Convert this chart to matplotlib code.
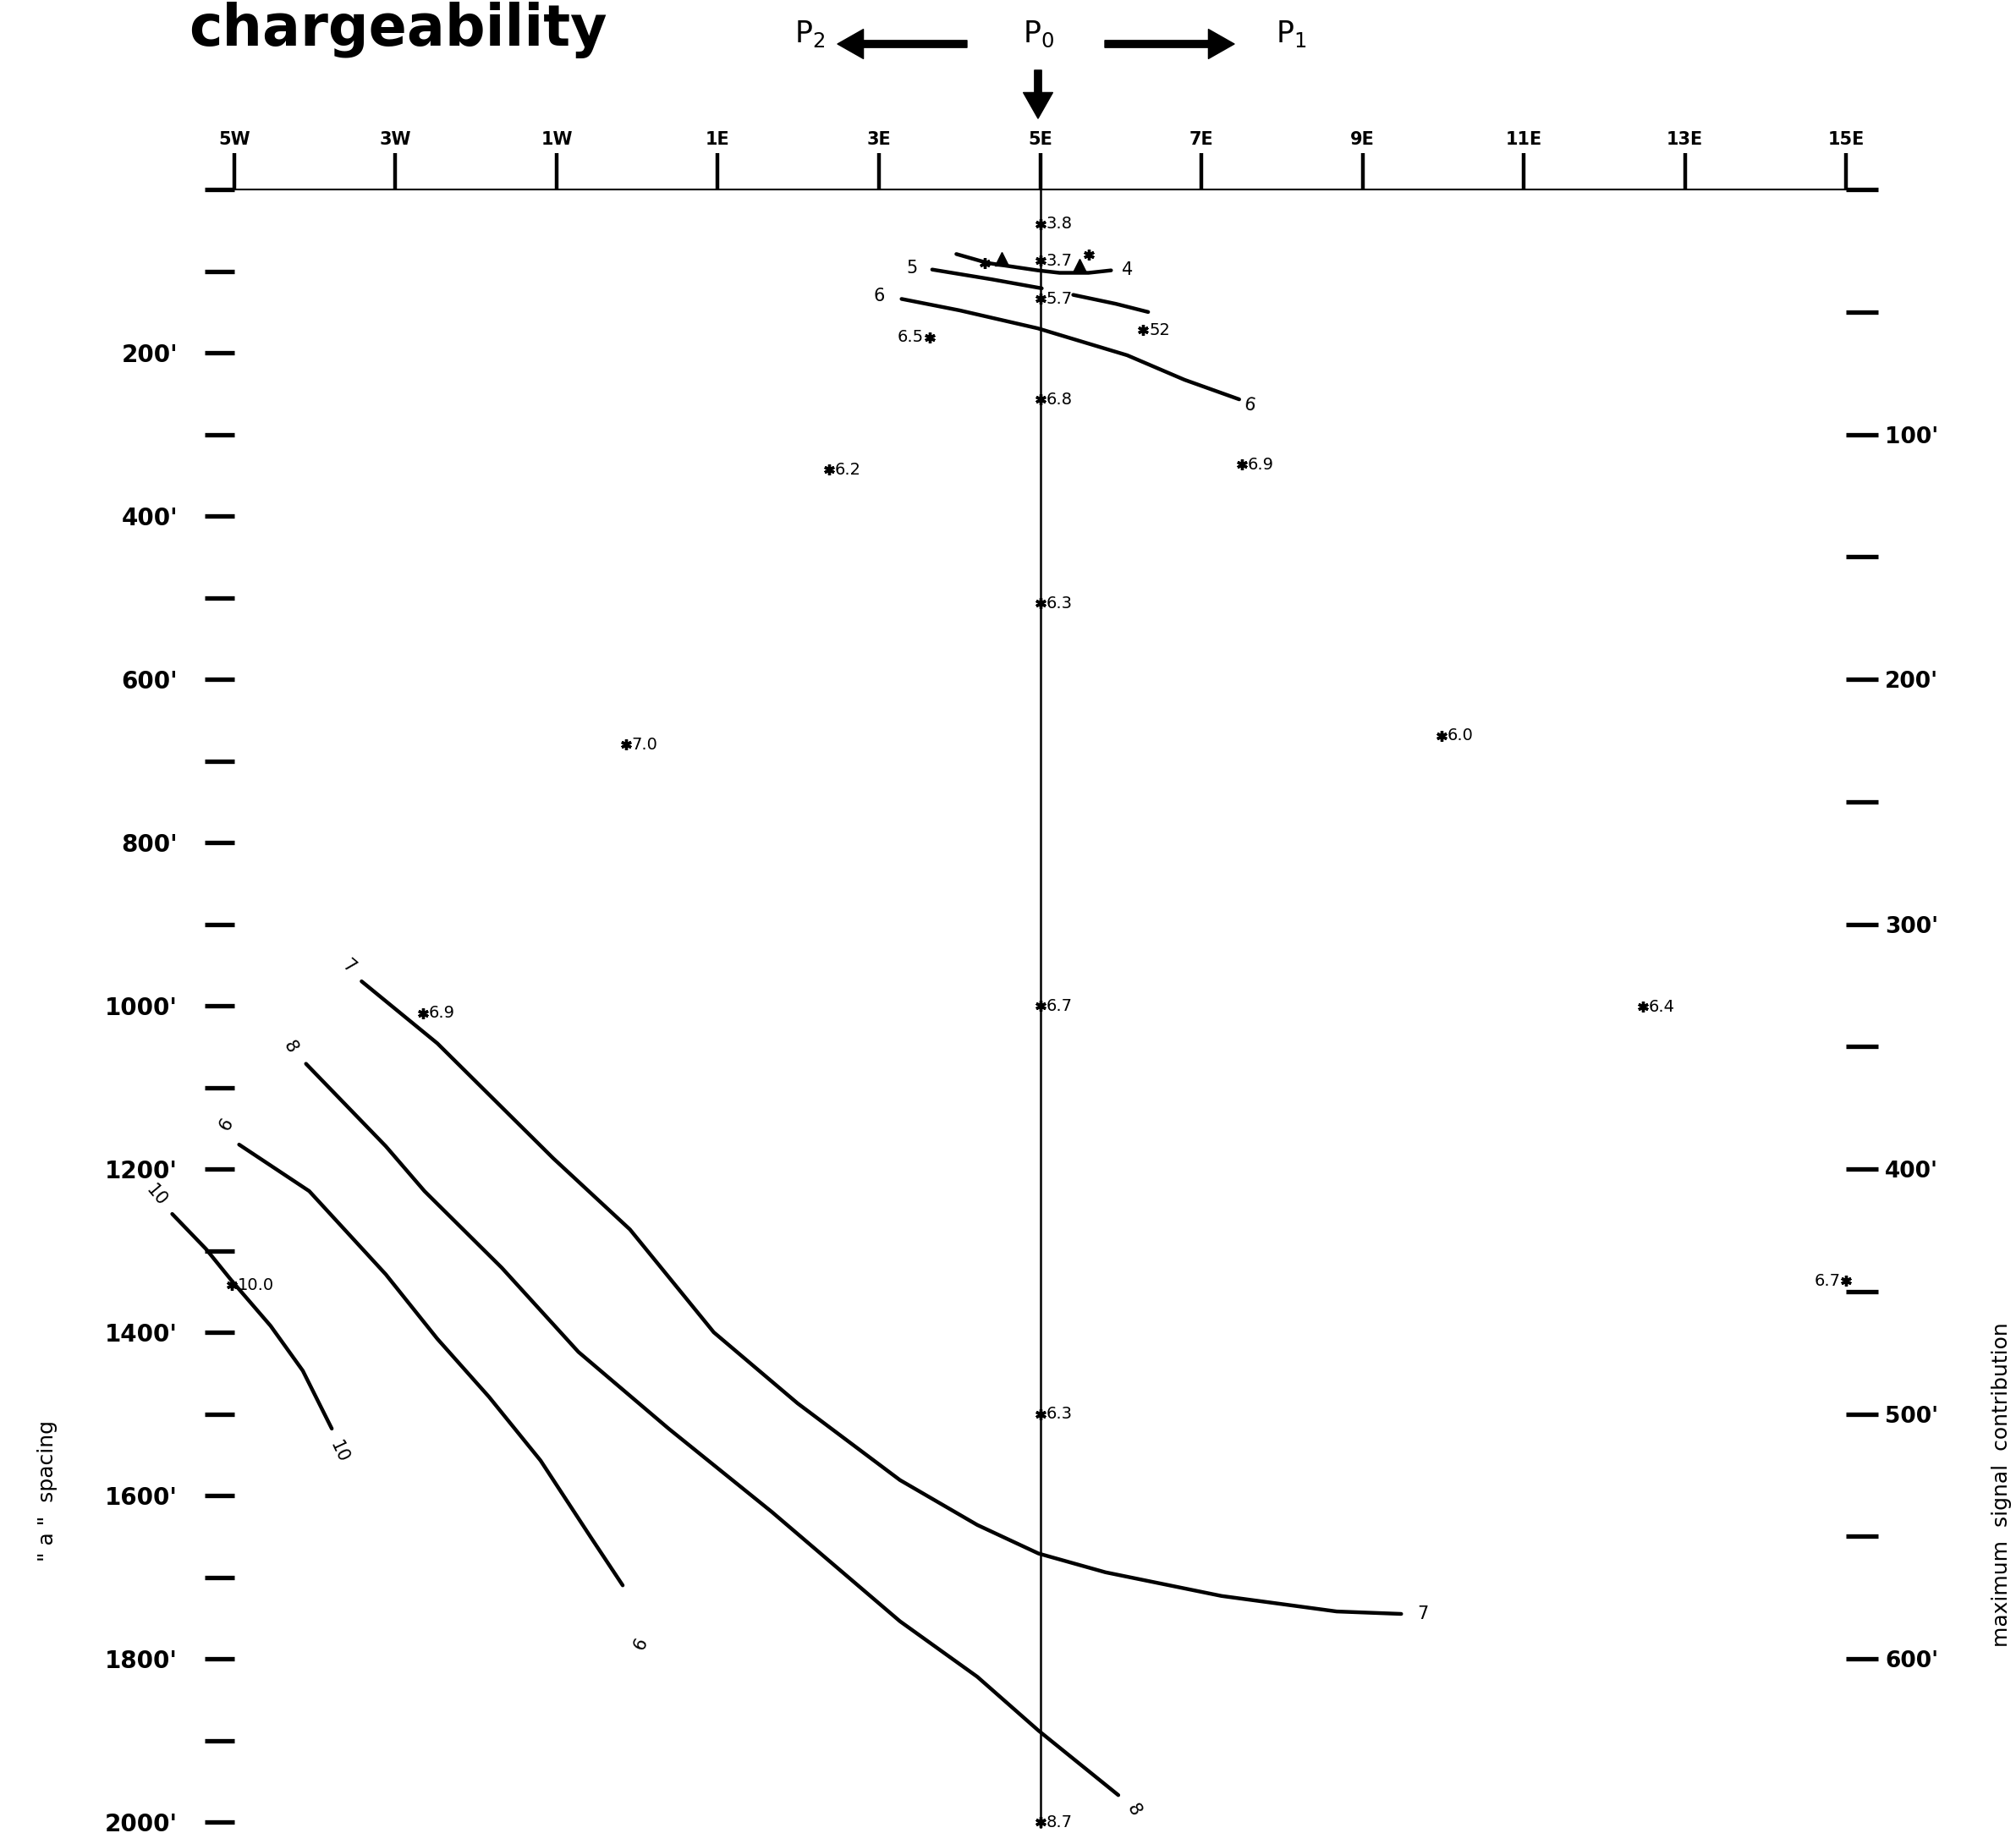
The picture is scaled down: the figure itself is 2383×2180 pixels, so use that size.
import matplotlib.pyplot as plt
import numpy as np

plt.rcParams['font.family'] = ['DejaVu Sans']
plt.rcParams['mathtext.fontset'] = 'dejavusans'

# stations along the line (5W = -5 ... 15E = 15)
stations = [-5, -3, -1, 1, 3, 5, 7, 9, 11, 13, 15]
station_labels = ['5W', '3W', '1W', '1E', '3E', '5E', '7E', '9E', '11E', '13E', '15E']
p0_station = 5

# "a" spacing ticks (left) and max signal contribution ticks (right)
a_ticks = list(range(0, 2001, 100))
msc_ticks = list(range(0, 601, 50))

# measured chargeability values
pt_x = [5, 5, 5, 5, 5, 5, 5, 5, 6.28, 2.38, 7.5, -0.14, 9.98, -2.66, 12.48, -5.03]
pt_y = [42, 87, 134, 257, 507, 1000, 1500, 2000, 172, 343, 337, 680, 669, 1009, 1001, 1342]
pt_val = ['3.8', '3.7', '5.7', '6.8', '6.3', '6.7', '6.3', '8.7', '52', '6.2', '6.9', '7.0', '6.0', '6.9', '6.4', '10.0']

# values labelled on the left of the star
ptl_x = [3.63, 15]
ptl_y = [181, 1337]
ptl_val = ['6.5', '6.7']

# extra unlabelled stars and triangles near the top
extra_x = [4.31, 5.6]
extra_y = [90, 80]
tri_x = [4.52, 5.49]
tri_y = [85, 93]

# contour lines
c4_x = [3.96, 4.35, 4.97, 5.24, 5.6, 5.88]
c4_y = [79, 90, 99, 102, 102, 99]
c5a_x = [3.66, 4.4, 5.02]
c5a_y = [98, 110, 121]
c5b_x = [5.41, 5.94, 6.34]
c5b_y = [129, 140, 150]
c6_x = [3.28, 4.0, 4.97, 6.08, 6.79, 7.47]
c6_y = [134, 148, 170, 203, 233, 257]
c7_x = [-3.42, -2.48, -1.04, -0.09, 0.95, 1.99, 3.26, 4.22, 4.98, 5.81, 7.25, 8.68, 9.48]
c7_y = [970, 1046, 1187, 1274, 1400, 1487, 1581, 1636, 1671, 1694, 1723, 1742, 1745]
c8_x = [-4.11, -3.12, -2.64, -1.68, -0.73, 0.39, 1.67, 3.26, 4.22, 4.98, 5.97]
c8_y = [1071, 1172, 1227, 1321, 1424, 1518, 1620, 1754, 1822, 1888, 1967]
c9_x = [-4.94, -4.07, -3.12, -2.48, -1.84, -1.20, -0.57, -0.18]
c9_y = [1170, 1227, 1329, 1408, 1479, 1557, 1652, 1710]
c10_x = [-5.77, -5.35, -5.03, -4.55, -4.15, -3.79]
c10_y = [1255, 1298, 1337, 1392, 1447, 1518]
contours = [(c4_x, c4_y), (c5a_x, c5a_y), (c5b_x, c5b_y), (c6_x, c6_y),
            (c7_x, c7_y), (c8_x, c8_y), (c9_x, c9_y), (c10_x, c10_y)]

# contour labels: text, x, y, rotation
clab_txt = ['4', '5', '6', '6', '7', '7', '8', '8', '9', '9', '10', '10']
clab_x = [6.08, 3.41, 3.0, 7.6, -3.58, 9.75, -4.30, 6.16, -5.16, -0.02, -5.97, -3.70]
clab_y = [98, 96, 130, 264, 952, 1745, 1050, 1985, 1144, 1781, 1232, 1547]
clab_rot = [0, 0, 0, -10, -40, 0, -60, -60, -120, -115, -50, -65]

fig = plt.figure(figsize=(23.83, 21.8), dpi=100)
ax = fig.add_axes([0.1162, 0.0119, 0.7995, 0.8853])
ax.set_xlim(-5, 15)
ax.set_ylim(2000, 0)

for s in ['left', 'right', 'bottom']:
    ax.spines[s].set_visible(False)
ax.spines['top'].set_linewidth(1.5)

ax.xaxis.tick_top()
ax.set_xticks(stations)
ax.set_xticklabels(station_labels, fontsize=15, fontweight='bold')
ax.tick_params(axis='x', direction='out', length=31, width=3.2, pad=4)

ax.set_yticks(a_ticks)
ax.set_yticklabels([f"{v}'" if v > 0 and v % 200 == 0 else '' for v in a_ticks],
                   fontsize=20, fontweight='bold')
ax.tick_params(axis='y', direction='out', length=25, width=3.8, pad=23)

ax2 = ax.twinx()
ax2.set_ylim(2000 / 3, 0)
for s in ax2.spines.values():
    s.set_visible(False)
ax2.set_yticks(msc_ticks)
ax2.set_yticklabels([f"{v}'" if v > 0 and v % 100 == 0 else '' for v in msc_ticks],
                    fontsize=19, fontweight='bold')
ax2.tick_params(axis='y', direction='out', length=27, width=3.8, pad=6)

# P0 line
ax.axvline(p0_station, ymin=-0.003, ymax=1, color='k', lw=1.8, clip_on=False)

for cx, cy in contours:
    ax.plot(cx, cy, color='k', lw=3.2, solid_capstyle='round', solid_joinstyle='round',
            clip_on=False)

ax.plot(pt_x + ptl_x + extra_x, pt_y + ptl_y + extra_y, ls='none', marker=(6, 2, 0),
        ms=9, mew=2.4, color='k', clip_on=False)
ax.plot(tri_x, tri_y, ls='none', marker='^', ms=11, color='k')

for v, x, y in zip(pt_val, pt_x, pt_y):
    ax.annotate(v, (x, y), xytext=(5, 0), textcoords='offset points',
                va='center', ha='left', fontsize=14, annotation_clip=False)
for v, x, y in zip(ptl_val, ptl_x, ptl_y):
    ax.annotate(v, (x, y), xytext=(-5, 0), textcoords='offset points',
                va='center', ha='right', fontsize=14, annotation_clip=False)

for t, x, y, r in zip(clab_txt, clab_x, clab_y, clab_rot):
    ax.text(x, y, t, rotation=r, ha='center', va='center', fontsize=15, clip_on=False)

# title and current-electrode arrows
fig.text(223 / 2383, 1 - 54 / 2180, 'chargeability', fontsize=48, fontweight='bold',
         va='baseline', ha='left')
for lab, xf in [('2', 939), ('0', 1209), ('1', 1508)]:
    fig.text(xf / 2383, 1 - 50 / 2180, r'$\mathregular{P_{%s}}$' % lab, fontsize=25,
             va='baseline', ha='left')
arrow = dict(facecolor='k', edgecolor='k', width=6, headwidth=25, headlength=22, shrink=0)
ax.annotate('', xy=(990 / 2383, 1 - 52 / 2180), xytext=(1143 / 2383, 1 - 52 / 2180),
            xycoords='figure fraction', textcoords='figure fraction', arrowprops=arrow)
ax.annotate('', xy=(1459 / 2383, 1 - 52 / 2180), xytext=(1306 / 2383, 1 - 52 / 2180),
            xycoords='figure fraction', textcoords='figure fraction', arrowprops=arrow)
ax.annotate('', xy=(1227 / 2383, 1 - 140 / 2180), xytext=(1227 / 2383, 1 - 83 / 2180),
            xycoords='figure fraction', textcoords='figure fraction', arrowprops=arrow)

fig.text(56 / 2383, 1 - 1763 / 2180, '" a "  spacing', rotation=90, fontsize=18,
         ha='center', va='center')
fig.text(2366 / 2383, 1 - 1755 / 2180, 'maximum  signal  contribution', rotation=90,
         fontsize=18, ha='center', va='center')

fig.savefig('out.png', dpi=100, facecolor='white')
